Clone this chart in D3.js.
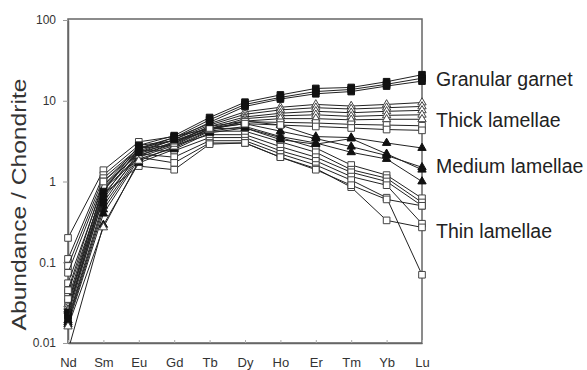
<!DOCTYPE html>
<html>
<head>
<meta charset="utf-8">
<script src="https://cdn.jsdelivr.net/npm/d3@7"></script>
<style>
  html, body { margin: 0; padding: 0; background: #fff; }
  svg { display: block; font-family: "Liberation Sans", Arial, sans-serif; }
</style>
</head>
<body>
<svg id="chart" width="587" height="370"></svg>
<script>
// ---- data ----
const elements = ["Nd", "Sm", "Eu", "Gd", "Tb", "Dy", "Ho", "Er", "Tm", "Yb", "Lu"];
const yTickValues = [0.01, 0.1, 1, 10, 100];
const yTickLabels = ["0.01", "0.1", "1", "10", "100"];
const yAxisTitle = "Abundance / Chondrite";
const groupNames = ["Granular garnet", "Thick lamellae", "Medium lamellae", "Thin lamellae"];

// Granular garnet (filled squares)
const granularGarnet = [
  [0.024, 0.75, 2.8, 3.7, 6.2, 9.6, 11.8, 14.2, 14.6, 17.2, 21.0],
  [0.022, 0.65, 2.6, 3.5, 5.8, 9.0, 11.0, 13.0, 13.8, 16.0, 19.0],
  [0.020, 0.55, 2.3, 3.3, 5.4, 8.5, 10.5, 12.2, 13.0, 15.2, 17.5]
];
// Thick lamellae (open triangles / open squares)
const thickLamellae = [
  [0.030, 0.90, 2.5, 3.5, 5.2, 7.3, 8.3, 9.0, 8.6, 9.0, 9.5],
  [0.028, 0.80, 2.4, 3.3, 5.0, 6.8, 7.7, 8.2, 7.9, 8.2, 8.5],
  [0.026, 0.70, 2.2, 3.1, 4.8, 6.3, 7.0, 7.4, 7.1, 7.4, 7.6],
  [0.025, 0.62, 2.1, 2.9, 4.5, 6.0, 6.5, 6.7, 6.4, 6.6, 6.7],
  [0.016, 0.27, 1.8, 2.7, 4.3, 5.6, 6.0, 6.0, 5.8, 5.9, 5.9],
  [0.035, 0.85, 2.3, 3.0, 4.5, 5.5, 5.4, 5.3, 5.1, 5.0, 4.9],
  [0.045, 1.00, 2.6, 3.2, 4.6, 5.2, 5.0, 4.8, 4.6, 4.4, 4.3]
];
const thickShapes = ["triangle", "triangle", "triangle", "triangle", "triangle", "square", "square"];
// Medium lamellae (filled triangles)
const mediumLamellae = [
  [0.019, 0.50, 2.1, 3.0, 4.8, 5.6, 5.0, 3.6, 3.5, 3.0, 2.6],
  [0.018, 0.45, 2.0, 2.8, 4.5, 5.2, 4.2, 3.4, 2.7, 2.1, 1.5],
  [0.017, 0.40, 1.9, 2.6, 4.2, 4.8, 3.6, 3.0, 2.3, 1.9, 1.0],
  [0.008, 0.29, 1.7, 2.5, 4.0, 4.6, 3.3, 2.9, 3.4, 2.2, 1.4]
];
// Thin lamellae (open squares)
const thinLamellae = [
  [0.20, 1.38, 3.1, 3.6, 4.5, 4.6, 3.5, 2.6, 1.6, 1.2, 0.62],
  [0.11, 1.20, 2.8, 3.2, 4.2, 4.2, 3.1, 2.3, 1.4, 1.1, 0.55],
  [0.09, 1.10, 2.6, 2.8, 3.8, 3.8, 2.7, 2.0, 1.3, 1.0, 0.50],
  [0.074, 1.00, 2.4, 2.4, 3.5, 3.5, 2.4, 1.8, 1.15, 0.9, 0.30],
  [0.055, 0.90, 2.2, 2.0, 3.2, 3.2, 2.2, 1.6, 1.04, 0.63, 0.07],
  [0.042, 0.80, 2.0, 1.7, 3.0, 3.0, 2.0, 1.45, 0.85, 0.33, 0.27],
  [0.032, 0.70, 1.55, 1.4, 2.9, 3.0, 2.0, 1.4, 0.9, 0.6, 0.50]
];

// ---- layout ----
const svg = d3.select("#chart");
const mLeft = 68, mRight = 422, mTop = 20, mBottom = 343;

const x = d3.scalePoint().domain(elements).range([mLeft, mRight]);
const y = d3.scaleLog().domain([0.01, 100]).range([mBottom, mTop]);

svg.append("defs").append("clipPath").attr("id", "plotClip")
  .append("rect").attr("x", 0).attr("y", mTop - 1)
  .attr("width", 587).attr("height", mBottom - mTop + 1);

// frame
svg.append("rect")
  .attr("x", mLeft).attr("y", mTop - 1)
  .attr("width", mRight - mLeft).attr("height", mBottom - mTop + 1)
  .attr("fill", "none").attr("stroke", "#666").attr("stroke-width", 1.5);

// y axis
const yAxis = svg.append("g")
  .attr("transform", `translate(${mLeft},0)`)
  .call(d3.axisLeft(y).tickValues(yTickValues)
    .tickFormat((d, i) => yTickLabels[i]).tickSizeInner(5).tickSizeOuter(0).tickPadding(7));
yAxis.select(".domain").attr("stroke", "#666").attr("stroke-width", 1.5);
yAxis.selectAll(".tick line").attr("stroke", "#999");
yAxis.selectAll("text").attr("font-size", 12).attr("fill", "#333")
  .attr("font-family", "Liberation Sans, Arial, sans-serif");

// x axis
const xAxis = svg.append("g")
  .attr("transform", `translate(0,${mBottom})`)
  .call(d3.axisBottom(x).tickSizeInner(-3).tickSizeOuter(0).tickPadding(15));
xAxis.select(".domain").attr("stroke", "#666").attr("stroke-width", 1.5);
xAxis.selectAll(".tick line").attr("stroke", "#aaa");
xAxis.selectAll("text").attr("font-size", 13).attr("fill", "#333")
  .attr("font-family", "Liberation Sans, Arial, sans-serif");

// y title
svg.append("text")
  .attr("transform", `translate(26,${(78 + 331) / 2}) rotate(-90)`)
  .attr("text-anchor", "middle")
  .attr("font-size", 21)
  .attr("fill", "#333")
  .attr("textLength", 252)
  .attr("lengthAdjust", "spacingAndGlyphs")
  .text(yAxisTitle);

// series
const line = d3.line().x((d, i) => x(elements[i])).y(d => y(d));
const plot = svg.append("g").attr("clip-path", "url(#plotClip)");

function drawSeries(values, shape, filled) {
  const g = plot.append("g");
  g.append("path").attr("d", line(values))
    .attr("fill", "none").attr("stroke", "#222").attr("stroke-width", 1);
  const sym = d3.symbol()
    .type(shape === "square" ? d3.symbolSquare : d3.symbolTriangle)
    .size(shape === "square" ? 44 : 30);
  g.selectAll("path.m").data(values).join("path").attr("class", "m")
    .attr("d", sym)
    .attr("transform", (d, i) => `translate(${x(elements[i])},${y(d)})`)
    .attr("fill", filled ? "#111" : "#fff")
    .attr("stroke", filled ? "#111" : "#444")
    .attr("stroke-width", 1);
}

thinLamellae.forEach(v => drawSeries(v, "square", false));
mediumLamellae.forEach(v => drawSeries(v, "triangle", true));
thickLamellae.forEach((v, i) => drawSeries(v, thickShapes[i], false));
granularGarnet.forEach(v => drawSeries(v, "square", true));

// group labels
const labelY = [86, 127, 173, 238];
svg.append("g").selectAll("text").data(groupNames).join("text")
  .attr("x", 436).attr("y", (d, i) => labelY[i])
  .attr("font-size", 19.5).attr("fill", "#222")
  .text(d => d);
</script>
</body>
</html>
